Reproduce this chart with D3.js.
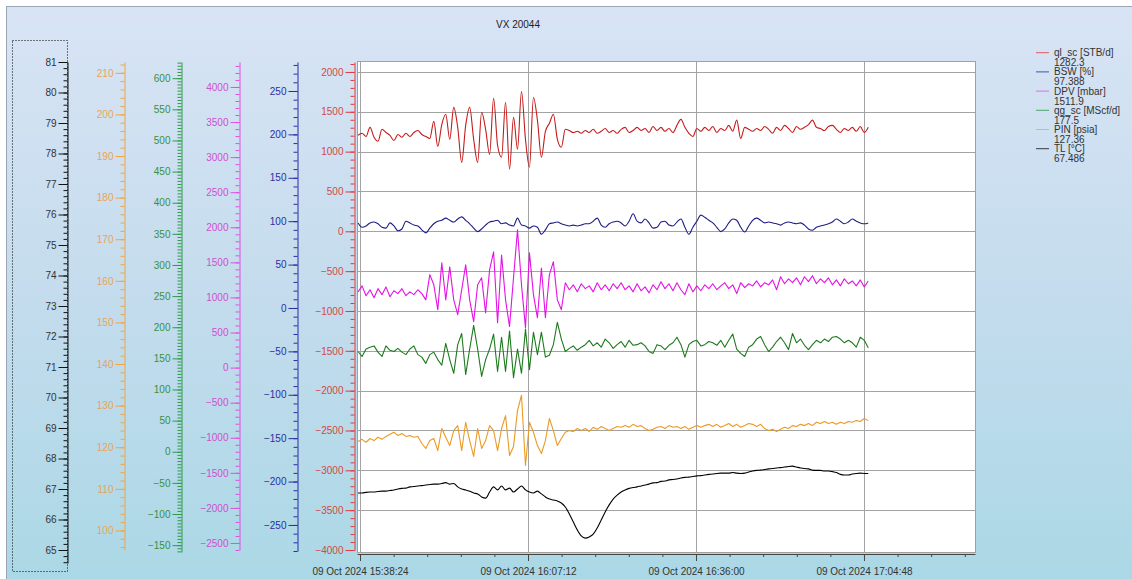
<!DOCTYPE html>
<html>
<head>
<meta charset="utf-8">
<script src="https://cdn.jsdelivr.net/npm/d3@7"></script>
<style>
  html, body { margin: 0; padding: 0; background: #fff; }
  svg { display: block; font-family: "Liberation Sans", Arial, sans-serif; }
</style>
</head>
<body>
<div id="chart"></div>
<script>
// ---- data ----
var chartTitle = 'VX 20044';

// samples: one every 41 s starting at 15:38:04
var sampleStart = '2024-10-09 15:38:04';
var sampleStepSec = 41;

var qlSc = [
  1205,1230,1190,1305,1180,1130,1280,1240,1205,1140,
  1215,1180,1230,1190,1240,1265,1215,1190,1165,1380,
  1065,1340,1470,1155,1555,1305,865,1330,1555,1155,
  865,1495,1280,965,1670,1080,930,1620,780,1430,
  1030,1755,1155,805,1680,1395,930,1255,1355,1470,
  1155,1055,1280,1265,1240,1255,1230,1265,1240,1280,
  1230,1255,1290,1240,1265,1230,1280,1305,1240,1265,
  1305,1265,1290,1240,1315,1265,1305,1255,1290,1240,
  1330,1405,1305,1230,1190,1290,1255,1305,1265,1315,
  1240,1290,1265,1330,1255,1395,1165,1305,1280,1255,
  1290,1265,1315,1280,1230,1305,1265,1330,1290,1240,
  1315,1280,1305,1340,1395,1305,1290,1265,1315,1330,
  1280,1240,1290,1265,1305,1255,1315,1240,1305
];

var bsw = [
  98,93,94.5,98,99,97,93,92,98,94.5,
  89,91,100,98,95.5,94.5,90,86.5,92,97,
  100,101,103.5,101,99,102.5,105,101,97,92,
  88,91,95.5,99,100,101,97,98,95.5,94.5,
  103.5,95.5,94.5,92,94.5,93,85,90,97,98,
  99,97,95.5,94.5,95.5,94.5,95.5,97,97,100,
  103.5,95.5,93,97,99,100,98,94.5,100,108.5,
  100,98,102.5,98,92,93,99,100,95.5,94.5,
  99,102.5,93,85,93,100,107,104.5,101,98,
  93,88,91,98,102.5,101,93,87.5,94.5,101,
  103.5,101,98,99,98,97,95.5,98,99,98,
  97,98,95.5,91,89.5,93,94.5,95.5,97,99,
  102.5,100,97,99,102.5,100,98,97,98
];

var dpv = [
  1080,1165,1025,1110,995,1125,1040,1150,1010,1095,
  1055,1125,1025,1080,1040,1110,1055,965,1325,1180,
  825,1495,965,1435,965,755,1110,1465,965,655,
  1180,1280,780,1395,1650,640,1605,965,585,1280,
  1965,1180,570,1635,1040,710,1420,710,1325,1510,
  965,825,1210,1110,1180,1080,1195,1125,1165,1080,
  1210,1110,1180,1095,1195,1125,1210,1110,1165,1080,
  1195,1095,1150,1065,1180,1110,1225,1125,1195,1095,
  1210,1110,1040,1195,1080,1165,1095,1180,1125,1195,
  1110,1165,1210,1125,1180,1055,1210,1140,1195,1165,
  1235,1150,1210,1180,1250,1110,1295,1195,1265,1210,
  1280,1180,1295,1225,1310,1195,1265,1210,1280,1180,
  1250,1165,1265,1195,1235,1165,1250,1150,1235
];

var qgSc = [
  161,153,165,168,170,160,153,170,163,161,
  166,160,156,165,170,156,152,142,156,160,
  148,139,174,148,126,172,190,124,165,203,
  165,121,148,165,189,129,184,129,194,119,
  165,126,197,132,192,156,192,152,155,172,
  208,181,161,166,170,163,168,172,179,170,
  175,168,181,175,166,172,177,168,179,171,
  172,175,170,161,158,172,170,164,171,175,
  184,172,152,172,177,179,170,172,177,175,
  171,179,168,179,189,165,158,153,168,172,
  181,185,172,161,168,177,184,175,164,190,
  175,181,171,164,172,179,175,181,177,184,
  185,181,175,179,175,168,184,179,167
];

var pin = [
  121.4,121.9,121.2,122.1,121.6,122.4,121.9,122.6,123.1,123.6,
  122.8,123.3,122.6,122.8,122.4,122.6,120.9,119.7,121.6,122.1,
  119.2,124.5,122.4,120.4,124,125.2,119.2,126,121.6,117.8,
  124.5,119.7,121.6,125.2,124,119.2,124.5,127.6,118,120.2,
  128.8,132.5,115.6,126,123.6,120.4,118.5,121.6,126.9,124,
  120.4,122.1,123.6,124,123.8,124.5,124,124.5,123.8,124.8,
  124.3,125,124.5,124,124.5,125,124.8,125.2,124.8,125.5,
  125,125.2,124.5,124,124.3,124.8,125,124.5,125.2,124.8,
  125,124.5,125,124.3,124.8,125.2,124.8,125.2,125.5,125,
  125.5,124.8,125.2,125.7,125,125.5,124.8,125.2,125.7,125.5,
  125,125.5,124.5,124,124.3,123.8,124.3,124.8,124.5,125.2,
  125,125.5,125.2,125.7,125.2,126,125.7,126.2,125.7,126,
  125.5,126,125.7,126.2,126,126.4,126.2,126.9,126.4
];

var tl = [
  66.87,66.87,66.89,66.90,66.90,66.92,66.93,66.93,66.95,66.97,
  67.00,67.02,67.03,67.07,67.08,67.10,67.11,67.13,67.15,67.16,
  67.16,67.18,67.21,67.16,67.18,67.07,67.00,66.97,66.93,66.87,
  66.84,66.74,66.70,66.90,67.07,66.97,67.10,66.97,67.03,66.90,
  67.00,67.10,66.97,66.90,66.87,66.93,66.84,66.74,66.67,66.64,
  66.61,66.54,66.41,66.18,65.92,65.66,65.46,65.39,65.43,65.52,
  65.72,65.98,66.25,66.48,66.67,66.80,66.90,66.97,67.02,67.05,
  67.07,67.10,67.13,67.16,67.20,67.21,67.25,67.26,67.30,67.31,
  67.33,67.36,67.38,67.39,67.41,67.43,67.44,67.46,67.48,67.49,
  67.51,67.52,67.52,67.52,67.54,67.52,67.51,67.52,67.56,67.59,
  67.61,67.62,67.64,67.66,67.67,67.69,67.70,67.72,67.74,67.75,
  67.72,67.69,67.67,67.66,67.62,67.61,67.61,67.59,67.59,67.57,
  67.54,67.48,67.46,67.46,67.49,67.51,67.52,67.51,67.51
];

var legendNames = ['ql_sc [STB/d]', 'BSW [%]', 'DPV [mbar]', 'qg_sc [MScf/d]', 'PIN [psia]', 'TL [°C]'];
var legendValues = ['1282.3', '97.388', '1511.9', '177.5', '127.36', '67.486'];

var timeTicks = ['2024-10-09 15:38:24', '2024-10-09 16:07:12', '2024-10-09 16:36:00', '2024-10-09 17:04:48'];
var tlTicks = [65, 66, 67, 68, 69, 70, 71, 72, 73, 74, 75, 76, 77, 78, 79, 80, 81];
var pinTicks = [100, 110, 120, 130, 140, 150, 160, 170, 180, 190, 200, 210];
var qgTicks = [-150, -100, -50, 0, 50, 100, 150, 200, 250, 300, 350, 400, 450, 500, 550, 600];
var dpvTicks = [-2500, -2000, -1500, -1000, -500, 0, 500, 1000, 1500, 2000, 2500, 3000, 3500, 4000];
var bswTicks = [-250, -200, -150, -100, -50, 0, 50, 100, 150, 200, 250];
var qlTicks = [-4000, -3500, -3000, -2500, -2000, -1500, -1000, -500, 0, 500, 1000, 1500, 2000];

// ---- layout ----
var W = 1132, H = 579;
var plot = { left: 357, right: 975, top: 62, bottom: 553 };
var parseTime = d3.timeParse('%Y-%m-%d %H:%M:%S');

var svg = d3.select('#chart').append('svg')
    .attr('width', W)
    .attr('height', H);

// background panel
var grad = svg.append('defs').append('linearGradient')
    .attr('id', 'bg').attr('x1', 0).attr('y1', 0).attr('x2', 0).attr('y2', 1);
grad.append('stop').attr('offset', '0%').attr('stop-color', '#d8e4f5');
grad.append('stop').attr('offset', '50%').attr('stop-color', '#c4dced');
grad.append('stop').attr('offset', '100%').attr('stop-color', '#abd8e6');

svg.append('rect')
    .attr('x', 6.5).attr('y', 6.5)
    .attr('width', W - 6).attr('height', H - 6)
    .attr('fill', 'url(#bg)')
    .attr('stroke', '#9aa6b4');

svg.append('text')
    .attr('x', 518).attr('y', 28)
    .attr('text-anchor', 'middle')
    .attr('font-size', 10)
    .attr('fill', '#222')
    .text(chartTitle);

// plot area
svg.append('rect')
    .attr('x', plot.left + 0.5).attr('y', plot.top - 0.5)
    .attr('width', plot.right - plot.left).attr('height', plot.bottom - plot.top)
    .attr('fill', '#fff')
    .attr('stroke', '#a0a0a0');

// time scale
var x = d3.scaleTime()
    .domain([parseTime('2024-10-09 15:37:53'), parseTime('2024-10-09 17:23:50')])
    .range([plot.left, plot.right]);

var t0 = parseTime(sampleStart).getTime();
var times = qlSc.map(function(d, i) { return new Date(t0 + i * sampleStepSec * 1000); });
var majorTimes = timeTicks.map(parseTime);

// minor time ticks: 5 per major interval
var stepMs = (majorTimes[1] - majorTimes[0]) / 5;
var minorTimes = d3.range(-1, 30)
    .map(function(k) { return new Date(majorTimes[0].getTime() + k * stepMs); })
    .filter(function(d) { return d >= x.domain()[0] && d <= x.domain()[1]; });

// value axes, left to right
var axes = [
    { data: tl,   ticks: tlTicks,  minor: 0.2, domain: [64.574, 81],  x: 67,  y0: 563, y1: 62, axis: '#111',    label: '#333',    line: '#000',    smooth: true },
    { data: pin,  ticks: pinTicks, minor: 2,   domain: [95.3, 212.6], x: 124, y0: 550, y1: 62, axis: '#f0a542', label: '#eaa35a', line: '#eb9a24', smooth: false },
    { data: qgSc, ticks: qgTicks,  minor: 5,   domain: [-161, 626],   x: 181, y0: 552, y1: 62, axis: '#2e9a48', label: '#3a9042', line: '#1c7a1c', smooth: false },
    { data: dpv,  ticks: dpvTicks, minor: 100, domain: [-2600, 4356], x: 239, y0: 550, y1: 62, axis: '#e24fe2', label: '#cf4fcf', line: '#e412e4', smooth: false },
    { data: bsw,  ticks: bswTicks, minor: 10,  domain: [-280, 283.4], x: 297, y0: 551, y1: 62, axis: '#2b2ba0', label: '#2e2e9e', line: '#1c1c84', smooth: true },
    { data: qlSc, ticks: qlTicks,  minor: 100, domain: [-4000, 2125], x: 354, y0: 550, y1: 62, axis: '#e03a3a', label: '#d24848', line: '#c41c1c', smooth: true }
];

axes.forEach(function(a) {
    a.scale = d3.scaleLinear().domain(a.domain).range([a.y0, a.y1]);
});

// gridlines (follow the ql_sc axis)
var qlScale = axes[5].scale;
svg.append('g').selectAll('line.h')
    .data(qlTicks.filter(function(v) { return v > -4000; }))
    .enter().append('line')
    .attr('x1', plot.left).attr('x2', plot.right)
    .attr('y1', function(v) { return Math.round(qlScale(v)) + 0.5; })
    .attr('y2', function(v) { return Math.round(qlScale(v)) + 0.5; })
    .attr('stroke', '#a3a3a3');

svg.append('g').selectAll('line.v')
    .data(majorTimes)
    .enter().append('line')
    .attr('x1', function(d) { return Math.round(x(d)) + 0.5; })
    .attr('x2', function(d) { return Math.round(x(d)) + 0.5; })
    .attr('y1', plot.top).attr('y2', plot.bottom)
    .attr('stroke', '#a3a3a3');

// draw each value axis: minor ticks then labelled majors
axes.forEach(function(a) {
    var lo = a.domain[0], hi = a.domain[1];
    var minorVals = d3.range(Math.ceil(lo / a.minor), Math.floor(hi / a.minor) + 1)
        .map(function(k) { return +(k * a.minor).toFixed(4); });

    var g = svg.append('g').attr('transform', 'translate(' + (a.x + 0.5) + ',0)');

    g.append('g')
        .call(d3.axisLeft(a.scale).tickValues(minorVals).tickSize(4).tickSizeOuter(0).tickFormat(''))
        .call(function(s) {
            s.select('.domain').attr('stroke', a.axis);
            s.selectAll('.tick line').attr('stroke', a.axis);
        });

    g.append('g')
        .call(d3.axisLeft(a.scale).tickValues(a.ticks).tickSize(9).tickPadding(2).tickSizeOuter(0).tickFormat(d3.format('d')))
        .call(function(s) {
            s.select('.domain').remove();
            s.selectAll('.tick line').attr('stroke', a.axis);
            s.selectAll('.tick text')
                .attr('fill', a.label)
                .attr('font-size', 10)
                .attr('font-family', '"Liberation Sans", Arial, sans-serif');
        });
});

// selection box around the TL axis
svg.append('rect')
    .attr('x', 12.5).attr('y', 40.5)
    .attr('width', 55).attr('height', 531)
    .attr('fill', 'none')
    .attr('stroke', '#000')
    .attr('stroke-dasharray', '1,2');

// time axis
var xg = svg.append('g').attr('transform', 'translate(0,' + (plot.bottom + 1) + ')');
xg.append('g')
    .call(d3.axisBottom(x).tickValues(minorTimes).tickSize(3).tickSizeOuter(0).tickFormat(''))
    .call(function(s) {
        s.select('.domain').attr('stroke', '#444');
        s.selectAll('.tick line').attr('stroke', '#444');
    });
xg.append('g')
    .call(d3.axisBottom(x).tickValues(majorTimes).tickSize(7).tickPadding(7).tickSizeOuter(0)
        .tickFormat(d3.timeFormat('%d %b %Y %H:%M:%S')))
    .call(function(s) {
        s.select('.domain').remove();
        s.selectAll('.tick line').attr('stroke', '#444');
        s.selectAll('.tick text')
            .attr('fill', '#333')
            .attr('font-size', 10)
            .attr('font-family', '"Liberation Sans", Arial, sans-serif');
    });

// series lines
var seriesOrder = [5, 4, 3, 2, 1, 0];
seriesOrder.forEach(function(k) {
    var a = axes[k];
    var line = d3.line()
        .curve(a.smooth ? d3.curveMonotoneX : d3.curveLinear)
        .x(function(d, i) { return x(times[i]); })
        .y(function(d) { return a.scale(d); });
    svg.append('path')
        .datum(a.data)
        .attr('d', line)
        .attr('fill', 'none')
        .attr('stroke', a.line)
        .attr('stroke-width', 1.1)
        .attr('stroke-linejoin', 'round');
});

// legend (order: ql_sc, BSW, DPV, qg_sc, PIN, TL)
var legendAxis = [5, 4, 3, 2, 1, 0];
var lg = svg.append('g');
legendNames.forEach(function(name, i) {
    var y = 52.7 + i * 19.2;
    lg.append('line')
        .attr('x1', 1036).attr('x2', 1049)
        .attr('y1', y).attr('y2', y)
        .attr('stroke', axes[legendAxis[i]].axis)
        .attr('stroke-opacity', 0.8);
    lg.append('text')
        .attr('x', 1054).attr('y', y + 3.5)
        .attr('font-size', 10)
        .attr('fill', '#333')
        .text(name);
    lg.append('text')
        .attr('x', 1054).attr('y', y + 13.5)
        .attr('font-size', 10)
        .attr('fill', '#333')
        .text(legendValues[i]);
});
</script>
</body>
</html>
